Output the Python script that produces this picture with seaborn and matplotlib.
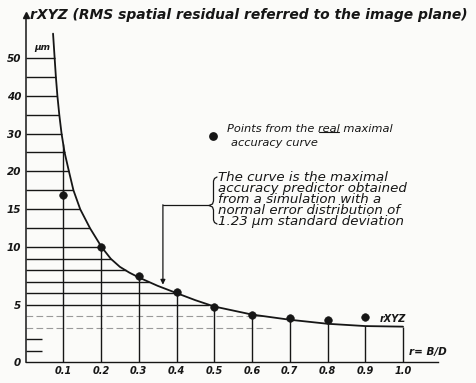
import numpy as np
import pandas as pd
import matplotlib
matplotlib.use("Agg")
import matplotlib.pyplot as plt
from matplotlib.lines import Line2D
import seaborn as sns

# ---- data ----
curve_x = [0.073, 0.0772, 0.0805, 0.0845, 0.0895, 0.0955, 0.1035, 0.115, 0.127, 0.145,
           0.171, 0.202, 0.226, 0.25, 0.275, 0.30, 0.35, 0.40, 0.45, 0.50, 0.60,
           0.70, 0.80, 0.90, 1.00]
curve_y = [56.5, 50, 45, 40, 35, 30, 25, 20, 17.5, 15,
           12.5, 10, 9, 8.3, 7.8, 7.38, 6.65, 6.02, 5.4, 4.85, 4.15,
           3.7, 3.35, 3.15, 3.1]
points_x = [0.1, 0.2, 0.3, 0.4, 0.5, 0.6, 0.7, 0.8, 0.9]
points_y = [16.9, 10.0, 7.5, 6.1, 4.8, 4.1, 3.85, 3.65, 3.9]
hatch_levels = [50, 45, 40, 35, 30, 25, 20, 17.5, 15, 12.5, 10, 9, 8, 7, 6, 5]
dashed_levels = [4, 3]
short_levels = [2, 1]
x_ticks = [0.1, 0.2, 0.3, 0.4, 0.5, 0.6, 0.7, 0.8, 0.9, 1.0]
x_ticklabels = ["0.1", "0.2", "0.3", "0.4", "0.5", "0.6", "0.7", "0.8", "0.9", "1.0"]
y_ticks = [0, 5, 10, 15, 20, 30, 40, 50]
y_ticklabels = ["0", "5", "10", "15", "20", "30", "40", "50"]

# piecewise linear y-scale of the hand drawn axis
scale_vals = [0, 10, 20, 70]
scale_pos = [0, 115, 191, 379.5]

def fwd(v):
    return np.interp(v, scale_vals, scale_pos)

def inv(p):
    return np.interp(p, scale_pos, scale_vals)

sns.set_theme(style="white")
plt.rcParams['font.family'] = ['DejaVu Sans']

INK = "#161616"
W, H = 476, 383
fig = plt.figure(figsize=(4.76, 3.83), dpi=100)
fig.patch.set_facecolor("#fbfbf9")
ax = fig.add_axes([25.5 / W, 20.7 / H, 415.25 / W, 347.5 / H])
ax.set_facecolor("#fbfbf9")
ax.set_yscale("function", functions=(fwd, inv))
ax.set_xlim(0, 1.1)
ax.set_ylim(0, 61.5)

cx = np.array(curve_x)
cy = np.array(curve_y)

def curve_x_at(level):
    return float(np.interp(level, cy[::-1], cx[::-1]))

# hatching: horizontal lines from axis to curve
for lv in hatch_levels:
    ax.hlines(lv, 0, curve_x_at(lv), color=INK, lw=1.0, zorder=2)
for lv in dashed_levels:
    ax.hlines(lv, 0, min(curve_x_at(lv), 0.65), color="#9a9a9a", lw=0.8,
              linestyles=(0, (6, 3)), zorder=1)
for lv in short_levels:
    ax.hlines(lv, 0, 0.045, color=INK, lw=1.0, zorder=2)
# vertical lines from x axis to curve
for xv in x_ticks:
    ax.vlines(xv, 0, float(np.interp(xv, cx, cy)), color=INK, lw=1.0, zorder=2)

df_curve = pd.DataFrame({"x": curve_x, "y": curve_y})
sns.lineplot(data=df_curve, x="x", y="y", ax=ax, color=INK, lw=1.3,
             sort=False, estimator=None, zorder=3)
df_pts = pd.DataFrame({"x": points_x, "y": points_y})
sns.scatterplot(data=df_pts, x="x", y="y", ax=ax, color=INK, s=30,
                edgecolor=INK, zorder=4)

# axes
for s in ["top", "right"]:
    ax.spines[s].set_visible(False)
ax.spines["left"].set_color(INK)
ax.spines["left"].set_linewidth(1.1)
ax.spines["bottom"].set_color(INK)
ax.spines["bottom"].set_linewidth(1.0)
ax.spines["bottom"].set_bounds(0, 1.093)
ax.plot([0], [1], marker="^", color=INK, ms=4, transform=ax.transAxes,
        clip_on=False)

ax.set_xticks(x_ticks)
ax.set_xticklabels(x_ticklabels, fontsize=7, fontstyle="italic",
                   fontweight="bold", color=INK)
ax.set_yticks(y_ticks)
ax.set_yticklabels(y_ticklabels, fontsize=7.5, fontstyle="italic",
                   fontweight="bold", color=INK)
ax.tick_params(axis="both", length=0, pad=3)
ax.set_xlabel("")
ax.set_ylabel("")
ax.minorticks_off()

tk = dict(color=INK, fontstyle="italic")
fig.text(30 / W, 1 - 15 / H,
         "rXYZ (RMS spatial residual referred to the image plane)",
         fontsize=10, fontweight="bold", va="center", ha="left", **tk)
ax.text(0.022, 52.8, "µm", fontsize=6.5, fontweight="bold", va="center", **tk)
ax.text(0.937, 3.75, "rXYZ", fontsize=7, fontweight="bold", va="center", **tk)
ax.text(1.015, 0.9, "r= B/D", fontsize=7.5, fontweight="bold", va="center", **tk)

# legend-like note
ax.scatter([0.497], [29.4], s=28, color=INK, zorder=4)
t1 = ax.text(0.535, 31.3, "Points from the real maximal",
             fontsize=8.2, va="center", ha="left", **tk)
ax.text(0.545, 27.6, "accuracy curve",
        fontsize=8.2, va="center", ha="left", **tk)
# underline "real"
fig.canvas.draw()
r = fig.canvas.get_renderer()
tmp = ax.text(0.535, 31.3, "Points from the ", fontsize=8.2, va="center",
              ha="left", **tk)
bb_pre = tmp.get_window_extent(r)
tmp.set_text("Points from the real")
bb_real = tmp.get_window_extent(r)
tmp.remove()
bb_t1 = t1.get_window_extent(r)
y_line = bb_t1.y0 + 1.5
inv_tr = ax.transData.inverted()
(xa, ya) = inv_tr.transform((bb_pre.x1 + 1, y_line))
(xb, _) = inv_tr.transform((bb_real.x1 - 1, y_line))
ax.plot([xa, xb], [ya, ya], color=INK, lw=0.8)

ax.text(0.51, 16.3,
        "The curve is the maximal\naccuracy predictor obtained\nfrom a simulation with a\n"
        "normal error distribution of\n1.23 µm standard deviation",
        fontsize=9.6, va="center", ha="left", linespacing=0.8, **tk)

# curly brace (drawn decoration, pixel coordinates from top-left)
bx = [217, 214.5, 213.5, 213.5, 212.5, 209, 212.5, 213.5, 213.5, 214.5, 217]
by = [177, 178.5, 181, 201, 204, 205.5, 207, 210, 220, 222.5, 224]
fig.add_artist(Line2D([v / W for v in bx], [1 - v / H for v in by],
                      transform=fig.transFigure, color=INK, lw=0.9))
ax.plot([0.486, 0.364], [15.57, 15.57], color=INK, lw=0.9)
ax.annotate("", xy=(0.364, 6.75), xytext=(0.364, 15.6),
            arrowprops=dict(arrowstyle="-|>", color=INK, lw=0.9,
                            mutation_scale=7, shrinkA=0, shrinkB=0))

fig.savefig("out.png", dpi=100, facecolor=fig.get_facecolor())
